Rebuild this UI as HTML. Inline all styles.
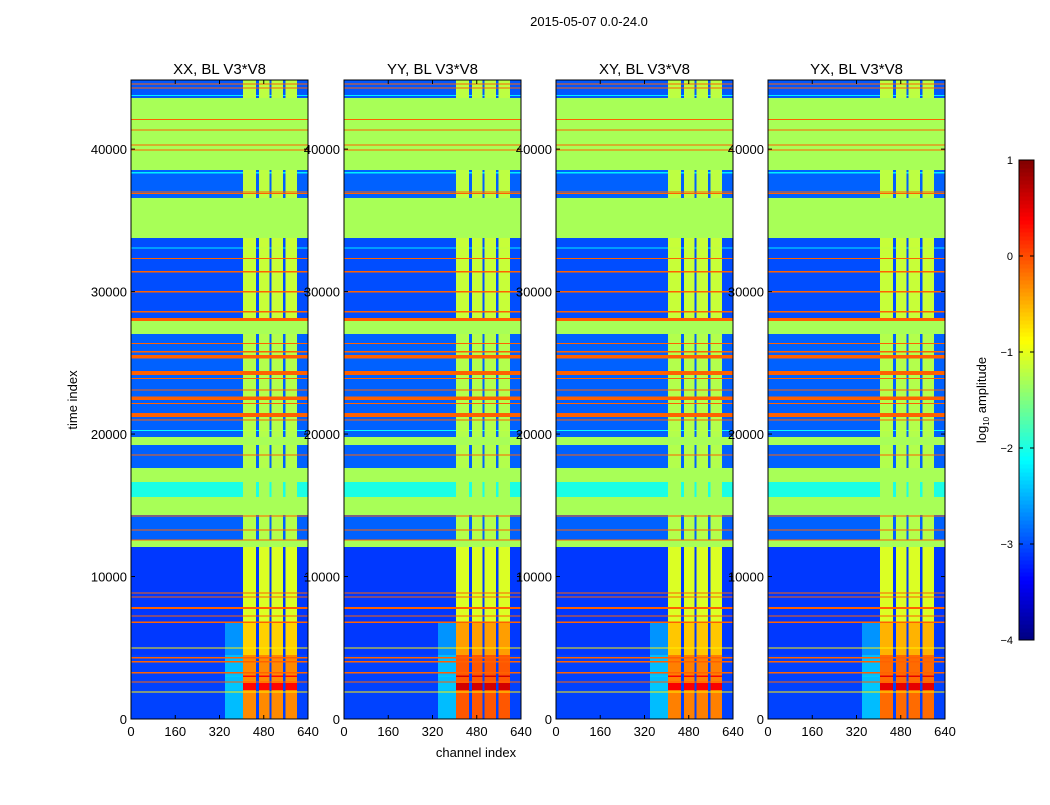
<!DOCTYPE html>
<html><head><meta charset="utf-8">
<style>
body{margin:0;background:#fff;width:1050px;height:800px;overflow:hidden;font-family:"Liberation Sans","DejaVu Sans",sans-serif;}
svg text{font-family:"Liberation Sans","DejaVu Sans",sans-serif;fill:#000;}
</style></head>
<body>
<svg id="fig" width="1050" height="800" viewBox="0 0 1050 800" xmlns="http://www.w3.org/2000/svg">
<text x="589" y="26" font-size="13" text-anchor="middle">2015-05-07 0.0-24.0</text>
<text transform="translate(77,400) rotate(-90)" font-size="13" text-anchor="middle">time index</text>
<text x="476" y="757" font-size="13" text-anchor="middle">channel index</text>
<g id="panels"></g>
<g id="cbar"></g>
</svg>
<script>
// ---- data ----
const panelTitles = ["XX, BL V3*V8","YY, BL V3*V8","XY, BL V3*V8","YX, BL V3*V8"];
const panelGain = [0, 0.25, 0.05, 0.15];
const xTicks = [0,160,320,480,640];
const yTicks = [0,10000,20000,30000,40000];
const yTickLabels = ["0","10000","20000","30000","40000"];
const cbTicks = [1,0,-1,-2,-3,-4];
const cbTickLabels = ["1","0","\u22121","\u22122","\u22123","\u22124"];
// channel segments: type 0=background, 1=bright column, 2=halo
const chStart = [0,340,405,452,462,500,508,550,558,600];
const chEnd   = [340,405,452,462,500,508,550,558,600,640];
const chType  = [0,2,1,0,1,0,1,0,1,0];
// time bands (drawn in order): start, end, bg value, column value, halo value (null = bg)
const rowStart = [43580,38530,36560,33750,28140,27930,27020,12560,19230,16630,15580,14320,12070,0,6800,4500,0,
  44560,44280,43720,42050,41290,40240,39890,38300,36960,36850,33030,32290,31350,29950,28540,
  26320,25740,25310,24140,23870,23050,22390,22110,21190,20940,20200,18490,14210,13220,12520,
  8800,8520,7730,7200,6740,4950,4260,3980,3210,2940,2580,2040,1860];
const rowEnd = [44850,43580,38530,36560,33750,28140,27930,27020,19790,17610,16630,15580,12560,12070,12070,6800,4500,
  44620,44340,43790,42120,41370,40320,39970,38380,37040,36930,33100,32370,31430,30030,28620,
  26400,25820,25540,24420,23950,23130,22620,22190,21470,21020,20300,18570,14290,13300,12600,
  8880,8600,7850,7270,6860,5010,4340,4060,3290,3040,2640,2530,1920];
const rowBg = [-2.95,-1.3,-2.9,-1.3,-3.0,-0.1,-1.3,-2.9,-1.3,-1.3,-2.0,-1.3,-1.3,-3.1,-3.1,-3.1,-3.05,
  -0.1,-0.1,-2.2,-0.1,-0.1,-0.1,-0.1,-2.2,-0.1,-0.1,-2.2,-0.1,-0.1,-0.1,-0.1,
  -0.1,-0.1,-0.1,-0.1,-0.1,-0.1,-0.1,-0.1,-0.1,-0.1,-2.1,-0.1,-0.1,-0.1,-0.1,
  -0.1,-0.1,-0.1,-0.1,-0.1,-0.8,-0.1,-0.1,-0.1,-3.05,-0.1,-3.05,-0.8];
const rowCol = [-1.2,-1.3,-1.2,-1.3,-1.15,-0.1,-1.3,-1.25,-1.3,-1.3,-1.3,-1.3,-1.3,-3.1,-1.05,-0.65,-0.3,
  -0.1,-0.1,-1.2,-0.1,-0.1,-0.1,-0.1,-1.2,-0.1,-0.1,-1.2,-0.1,-0.1,-0.1,-0.1,
  -0.1,-0.1,-0.1,-0.1,-0.1,-0.1,-0.1,-0.1,-0.1,-0.1,-1.2,-0.1,-0.1,-0.1,-0.1,
  -0.1,-0.1,-0.1,-0.1,-0.1,-0.8,-0.1,-0.1,-0.1,0.35,-0.1,0.35,-0.8];
const rowHalo = [null,null,null,null,null,null,null,null,null,null,null,null,null,null,null,-2.65,-2.45,
  null,null,null,null,null,null,null,null,null,null,null,null,null,null,null,
  null,null,null,null,null,null,null,null,null,null,null,null,null,null,null,
  null,null,null,null,null,null,null,null,null,-2.4,null,-2.4,null];

// ---- scales ----
const panelX = [131,344,556,768];
const PW = 177, PT = 80, PB = 719, TMAX = 44850;
const xs = (c, i) => panelX[i] + c / 640 * PW;
const ys = t => PB - t / TMAX * (PB - PT);
function jet(v){
  const n = Math.max(0, Math.min(1, (v + 4) / 5));
  const cl = x => Math.max(0, Math.min(1, x));
  const r = cl(Math.min(4*n-1.5, -4*n+4.5)), g = cl(Math.min(4*n-0.5, -4*n+3.5)), b = cl(Math.min(4*n+0.5, -4*n+2.5));
  return `rgb(${Math.round(r*255)},${Math.round(g*255)},${Math.round(b*255)})`;
}
const NS = "http://www.w3.org/2000/svg";
function mk(tag, attrs, parent){
  const e = document.createElementNS(NS, tag);
  for (const k in attrs) e.setAttribute(k, attrs[k]);
  parent.appendChild(e); return e;
}
const root = document.getElementById('panels');
panelTitles.forEach((title, p) => {
  const g = mk('g', {}, root);
  
  
  const cells = mk('g', {'shape-rendering':'crispEdges'}, g);
  
  
  for (let r = 0; r < rowStart.length; r++) {
    const y1 = ys(rowEnd[r]), y0 = ys(rowStart[r]);
    for (let c = 0; c < chStart.length; c++) {
      let v;
      if (chType[c] === 1) v = rowCol[r] + (rowHalo[r] !== null ? panelGain[p] : 0);
      else if (chType[c] === 2 && rowHalo[r] !== null) v = rowHalo[r];
      else v = rowBg[r];
      const x0 = xs(chStart[c], p), x1 = xs(chEnd[c], p);
      const rc = mk('rect', {x:x0.toFixed(2), y:y1.toFixed(2), width:(x1-x0+0.4).toFixed(2), height:Math.max(1, y0-y1).toFixed(2), fill:jet(v)}, cells);
      
      
    }
  }
  const fr = mk('rect', {x:panelX[p], y:PT, width:PW, height:PB-PT, fill:'none', stroke:'#000', 'stroke-width':1}, g);
  
  
  const tt = mk('text', {x:panelX[p]+PW/2, y:74, 'font-size':15, 'text-anchor':'middle'}, g);
  tt.textContent = title;
  
  
  xTicks.forEach(t => {
    const x = xs(t, p);
    mk('line', {x1:x, x2:x, y1:PB, y2:PB-4, stroke:'#000'}, g);
    mk('line', {x1:x, x2:x, y1:PT, y2:PT+4, stroke:'#000'}, g);
    const lb = mk('text', {x:x, y:PB+17, 'font-size':13, 'text-anchor':'middle'}, g);
    lb.textContent = t;
    
    
  });
  yTicks.forEach((t, k) => {
    const y = ys(t);
    mk('line', {x1:panelX[p], x2:panelX[p]+4, y1:y, y2:y, stroke:'#000'}, g);
    mk('line', {x1:panelX[p]+PW, x2:panelX[p]+PW-4, y1:y, y2:y, stroke:'#000'}, g);
    const lb = mk('text', {x:panelX[p]-4, y:y+5, 'font-size':13, 'text-anchor':'end'}, g);
    lb.textContent = yTickLabels[k];
    
    
  });
});
// colorbar
const cb = document.getElementById('cbar');


const CBX = 1019, CBW = 15, CBT = 160, CBB = 640;
const cbs = v => CBB - (v + 4) / 5 * (CBB - CBT);
for (let i = 0; i < 120; i++) {
  const v = -4 + (i + 0.5) * 5 / 120;
  mk('rect', {x:CBX, y:(CBB - (i+1)*(CBB-CBT)/120).toFixed(2), width:CBW, height:((CBB-CBT)/120+0.5).toFixed(2), fill:jet(v), 'shape-rendering':'crispEdges'}, cb);
}
mk('rect', {x:CBX, y:CBT, width:CBW, height:CBB-CBT, fill:'none', stroke:'#000'}, cb);
cbTicks.forEach((t, k) => {
  const y = cbs(t);
  mk('line', {x1:CBX, x2:CBX+4, y1:y, y2:y, stroke:'#000'}, cb);
  mk('line', {x1:CBX+CBW, x2:CBX+CBW-4, y1:y, y2:y, stroke:'#000'}, cb);
  const lb = mk('text', {x:1013, y:y+4, 'font-size':11, 'text-anchor':'end'}, cb);
  lb.textContent = cbTickLabels[k];
  
  
});
const cl = mk('text', {transform:'translate(986,400) rotate(-90)', 'font-size':13, 'text-anchor':'middle'}, cb);
cl.innerHTML = 'log<tspan font-size="8" dy="3">10</tspan><tspan dy="-3"> amplitude</tspan>';


</script>
</body></html>
